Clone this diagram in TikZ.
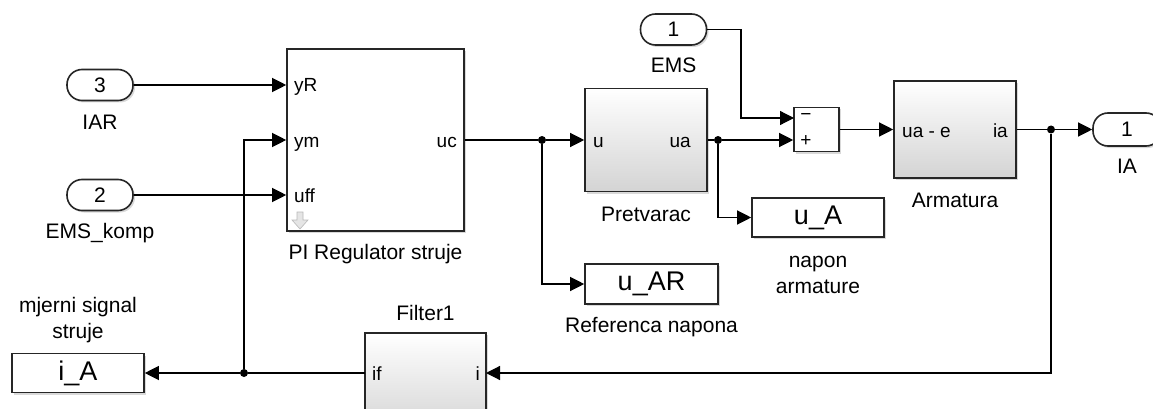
\documentclass[tikz,border=0pt]{standalone}
\usepackage{fontspec}
\setmainfont{Liberation Sans}
\usetikzlibrary{arrows.meta,shadows}
\begin{document}
\begin{tikzpicture}[x=1pt,y=-1pt,
  wire/.style={line width=1.2pt, black},
  arr/.style={wire, -{Triangle[length=14pt,width=14pt]}},
  blk/.style={draw=black!85, line width=1.6pt, inner sep=0pt,
    drop shadow={shadow xshift=2pt,shadow yshift=-2pt,opacity=0.3}},
  grad/.style={blk, top color=white, bottom color=black!17},
  plain/.style={blk, fill=white},
  pill/.style={blk, fill=white, rounded corners=15pt, minimum width=66pt,
    minimum height=31pt, font=\fontsize{21}{24}\selectfont},
  tagbox/.style={blk, fill=white, font=\fontsize{27}{30}\selectfont},
  lbl/.style={inner sep=0pt, font=\fontsize{21}{24}\selectfont},
  port/.style={inner sep=0pt, font=\fontsize{19}{22}\selectfont},
  dot/.style={circle, fill=black, inner sep=0pt, minimum size=8pt}
]
\useasboundingbox (0,0) rectangle (1153,409);
\clip (0,0) rectangle (1153,409);

% blocks
\node[pill] (in3) at (100,85) {3};
\node[pill] (in2) at (100,195) {2};
\node[pill] (ems) at (673.5,29.5) {1};
\node[pill, minimum width=68pt, minimum height=33pt] (ia) at (1127,129.5) {1};
\node[plain, minimum width=177pt, minimum height=182pt] (pi) at (375.5,140) {};
\node[grad, minimum width=122pt, minimum height=103pt] (pret) at (646,140) {};
\node[plain, minimum width=45pt, minimum height=44pt] (sum) at (816.5,129.5) {};
\node[grad, minimum width=122pt, minimum height=97pt] (arm) at (955,129.5) {};
\node[tagbox, minimum width=132pt, minimum height=39pt] (uA) at (818,217.5) {u\_A};
\node[tagbox, minimum width=133pt, minimum height=40pt] (uAR) at (651.5,284) {u\_AR};
\node[tagbox, minimum width=132pt, minimum height=39pt] (iA) at (78,373) {i\_A};
\node[grad, minimum width=121pt, minimum height=100pt] (filt) at (425.5,383) {};

% port coordinates
\coordinate (sumM) at (794,118);
\coordinate (emsc) at (741,29.5);
\coordinate (fif) at (365,373);
\coordinate (fi) at (486,373);

% junctions
\node[dot] (j1) at (244,373) {};
\node[dot] (j2) at (542,140) {};
\node[dot] (j3) at (718,140) {};
\node[dot] (j4) at (1051,129.5) {};

% wires
\draw[arr] (in3) -- (pi.west |- in3);
\draw[arr] (in2) -- (pi.west |- in2);
\draw[arr] (j1) |- (pi.west);
\draw[wire] (fif) -- (j1);
\draw[arr] (j1) -- (iA.east);
\draw[wire] (pi.east) -- (j2);
\draw[arr] (j2) -- (pret.west);
\draw[arr] (j2) |- (uAR.west);
\draw[wire] (pret.east) -- (j3);
\draw[arr] (j3) -- (sum.west |- j3);
\draw[arr] (j3) |- (uA.west);
\draw[wire] (ems.east) -- (emsc);
\draw[arr] (emsc) |- (sumM);
\draw[arr] (sum.east) -- (arm.west);
\draw[wire] (arm.east) -- (j4);
\draw[arr] (j4) -- (ia.west);
\draw[arr] (j4) |- (fi);

% port labels
\node[port, anchor=base west] (pyR) at (294,92) {yR};
\node[port, anchor=base west] (pym) at (294,147) {ym};
\node[port, anchor=base west] (puff) at (294,202) {uff};
\node[port, anchor=base east] (puc) at (457,147) {uc};
\node[port, anchor=base west] (pu) at (593,147) {u};
\node[port, anchor=base east] (pua) at (691,147) {ua};
\node[port, anchor=base west] (puae) at (902,137) {ua - e};
\node[port, anchor=base east] (pia) at (1008,137) {ia};
\node[port, anchor=base west] (pif) at (372,380) {if};
\node[port, anchor=base east] (pi2) at (480,380) {i};
\node[port] (sminus) at (806,117) {\textminus};
\node[port] (splus) at (806,141) {+};

% gray arrow in PI block
\draw[gray!55, fill=gray!20, line width=0.6pt] (297,212) -- (303,212) -- (303,220) -- (308,220) -- (300,229) -- (292,220) -- (297,220) -- cycle;

% block labels
\node[lbl, anchor=base] (lIAR) at (100,129) {IAR};
\node[lbl, anchor=base] (lEMSk) at (100,238) {EMS\_komp};
\node[lbl, anchor=base] (lPI) at (375.5,259) {PI Regulator struje};
\node[lbl, anchor=base] (lPret) at (646,221) {Pretvarac};
\node[lbl, anchor=base] (lEMS) at (673.5,73) {EMS};
\node[lbl, anchor=base] (lArm) at (955,207) {Armatura};
\node[lbl, anchor=base] (lIA) at (1127,173) {IA};
\node[lbl, anchor=base] (lnap1) at (818,267) {napon};
\node[lbl, anchor=base] (lnap2) at (818,293) {armature};
\node[lbl, anchor=base] (lRef) at (651.5,332) {Referenca napona};
\node[lbl, anchor=base] (lFilt) at (425.5,320) {Filter1};
\node[lbl, anchor=base] (lmj1) at (78,312) {mjerni signal};
\node[lbl, anchor=base] (lmj2) at (78,338) {struje};
\end{tikzpicture}
\end{document}
